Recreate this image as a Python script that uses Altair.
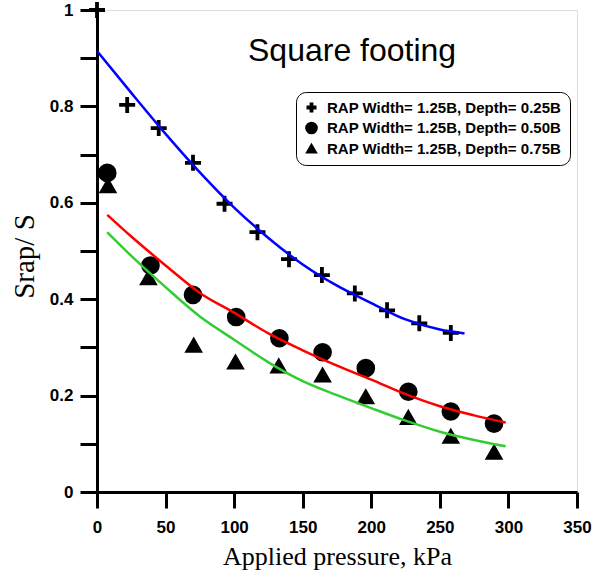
import altair as alt
import pandas as pd

series_names = [
    "RAP Width= 1.25B, Depth= 0.25B",
    "RAP Width= 1.25B, Depth= 0.50B",
    "RAP Width= 1.25B, Depth= 0.75B",
]

# measured points
plus_x = [0, 22, 45, 70, 93, 117, 140, 164, 188, 211.5, 235, 258]
plus_y = [1.0, 0.803, 0.755, 0.683, 0.598, 0.539, 0.483, 0.45, 0.412, 0.377, 0.35, 0.33]
circle_x = [7.5, 39, 70, 101.5, 133, 164.5, 196, 227, 258, 289.5]
circle_y = [0.662, 0.470, 0.409, 0.363, 0.319, 0.290, 0.257, 0.208, 0.167, 0.142]
tri_x = [8, 37.5, 70.5, 101, 132.5, 164.5, 196, 227, 258, 289.5]
tri_y = [0.636, 0.445, 0.305, 0.270, 0.262, 0.243, 0.198, 0.155, 0.116, 0.083]

# fitted curves
blue_x = [0, 25, 50, 75, 100, 125, 150, 175, 200, 225, 250, 268]
blue_y = [0.915, 0.828, 0.743, 0.663, 0.590, 0.527, 0.472, 0.428, 0.392, 0.358, 0.337, 0.329]
red_x = [7.5, 25, 50, 75, 100, 125, 150, 175, 200, 225, 250, 275, 298]
red_y = [0.575, 0.530, 0.470, 0.413, 0.372, 0.329, 0.294, 0.262, 0.233, 0.203, 0.178, 0.159, 0.144]
green_x = [7.5, 25, 50, 75, 100, 125, 150, 175, 200, 225, 250, 275, 298]
green_y = [0.539, 0.490, 0.425, 0.364, 0.316, 0.269, 0.230, 0.201, 0.174, 0.148, 0.125, 0.108, 0.095]

x_ticks = [0, 25, 50, 75, 100, 125, 150, 175, 200, 225, 250, 275, 300, 325, 350]
y_ticks = [0, 0.1, 0.2, 0.3, 0.4, 0.5, 0.6, 0.7, 0.8, 0.9, 1.0]

line_colors = ["#0000ff", "#ff0000", "#33cc33"]
PLUS = "M-1,0H1M0,-1V1"

points = pd.concat([
    pd.DataFrame({"x": plus_x, "y": plus_y, "series": series_names[0]}),
    pd.DataFrame({"x": circle_x, "y": circle_y, "series": series_names[1]}),
    pd.DataFrame({"x": tri_x, "y": tri_y, "series": series_names[2]}),
], ignore_index=True)

fits = pd.concat([
    pd.DataFrame({"x": blue_x, "y": blue_y, "series": series_names[0]}),
    pd.DataFrame({"x": red_x, "y": red_y, "series": series_names[1]}),
    pd.DataFrame({"x": green_x, "y": green_y, "series": series_names[2]}),
], ignore_index=True)

x_scale = alt.Scale(domain=[0, 350], nice=False, zero=False)
y_scale = alt.Scale(domain=[0, 1], nice=False, zero=False)

x_axis = alt.Axis(
    values=x_ticks,
    labelExpr="datum.value % 50 === 0 ? datum.label : ''",
    tickSize={"condition": {"test": "datum.value % 50 === 0", "value": 16}, "value": 8},
    tickWidth=3, tickColor="black",
    domainWidth=3, domainColor="black",
    labelFont="Liberation Sans", labelFontWeight="bold", labelFontSize=17,
    labelColor="black", labelPadding=11, labelFlush=False,
    grid=False,
    title="Applied pressure, kPa",
    titleFont="Liberation Serif", titleFontWeight="normal", titleFontSize=26,
    titleColor="black", titleBaseline="alphabetic", titleY=72,
)
y_axis = alt.Axis(
    values=y_ticks,
    labelExpr="round(datum.value * 10) % 2 === 0 ? format(datum.value, '~g') : ''",
    tickSize=17, tickWidth=3, tickColor="black",
    domainWidth=3, domainColor="black",
    labelFont="Liberation Sans", labelFontWeight="bold", labelFontSize=17,
    labelColor="black", labelPadding=7, labelFlush=False,
    grid=False,
    title="Srap/ S",
    titleFont="Liberation Serif", titleFontWeight="normal", titleFontSize=29,
    titleColor="black", titleBaseline="alphabetic", titleX=-64, titleY=246,
)

legend = alt.Legend(
    title=None, orient="none", legendX=199, legendY=82,
    fillColor="white", strokeColor="black", cornerRadius=10, padding=8,
    labelFont="Liberation Sans", labelFontWeight="bold", labelFontSize=15,
    labelColor="black", labelLimit=0, rowPadding=4.5, labelOffset=8,
    clipHeight=15,
)

pts = alt.Chart(points).mark_point(opacity=1, fillOpacity=1, size=256, clip=False).encode(
    x=alt.X("x:Q", scale=x_scale, axis=x_axis),
    y=alt.Y("y:Q", scale=y_scale, axis=y_axis),
    shape=alt.Shape("series:N", scale=alt.Scale(domain=series_names, range=[PLUS, "circle", "triangle-up"]), legend=legend),
    fill=alt.Fill("series:N", scale=alt.Scale(domain=series_names, range=["transparent", "black", "black"]), legend=legend),
    stroke=alt.Stroke("series:N", scale=alt.Scale(domain=series_names, range=["black", "black", "black"]), legend=legend),
    strokeWidth=alt.StrokeWidth("series:N", scale=alt.Scale(domain=series_names, range=[3.8, 1.5, 1.5]), legend=legend),
)

lines = alt.Chart(fits).mark_line(strokeWidth=2.5, interpolate="monotone", clip=False).encode(
    x=alt.X("x:Q", scale=x_scale),
    y=alt.Y("y:Q", scale=y_scale),
    color=alt.Color("series:N", scale=alt.Scale(domain=series_names, range=line_colors), legend=None),
    detail="series:N",
)

chart = alt.layer(pts, lines).properties(
    width=480, height=482,
    autosize=alt.AutoSizeParams(type="none"),
    padding={"left": 97, "top": 10, "right": 29, "bottom": 81},
    title=alt.TitleParams(
        text="Square footing", anchor="start", frame="group",
        font="Liberation Sans", fontSize=32, fontWeight="normal", color="black",
        dx=151, dy=103, baseline="alphabetic",
    ),
).configure_view(stroke="black", strokeWidth=2).configure(background="white")

chart.save("out.html", embed_options={"renderer": "svg", "actions": False})
